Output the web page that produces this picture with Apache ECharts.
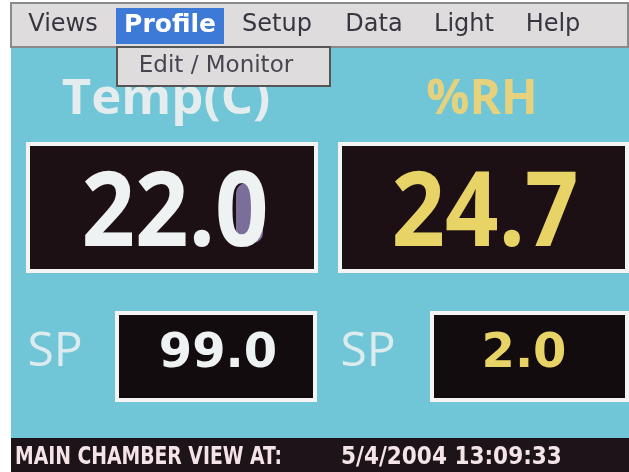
<!DOCTYPE html>
<html>
<head>
<meta charset="utf-8">
<script src="https://cdn.jsdelivr.net/npm/echarts@6/dist/echarts.min.js"></script>
<style>
  html, body { margin: 0; padding: 0; background: #ffffff; }
  #main { width: 629px; height: 472px; }
</style>
</head>
<body>
<div id="main"></div>
<script>
// screen content
const menuItems = ["Views", "Profile", "Setup", "Data", "Light", "Help"];
const menuX = [63, 170, 277, 374, 464, 553];
const activeMenu = "Profile";
const dropdownItems = ["Edit / Monitor"];
const headings = ["Temp(C)", "%RH"];
const readings = ["22.0", "24.7"];
const spLabel = "SP";
const setpoints = ["99.0", "2.0"];
const statusLabel = "MAIN CHAMBER VIEW AT:";
const statusTime = "5/4/2004 13:09:33";

const BG = "#70c5d7";
const WHITE = "#eef2f2";
const YELLOW = "#e8d466";
const PANEL = "#1c1014";

var myChart = echarts.init(document.getElementById("main"));

const g = [];

// screen background
g.push({ type: "rect", shape: { x: 11, y: 3, width: 618, height: 469 }, style: { fill: BG } });

// menu bar
g.push({ type: "rect", shape: { x: 11, y: 3, width: 617, height: 44 },
  style: { fill: "#dedcdc", stroke: "#8a8a8a", lineWidth: 2 } });
menuItems.forEach(function (m, i) {
  const active = m === activeMenu;
  if (active) {
    g.push({ type: "rect", shape: { x: 116, y: 8, width: 108, height: 36 }, style: { fill: "#3d79d6" } });
  }
  g.push({ type: "text", x: menuX[i], y: 25, style: {
    text: m, fill: active ? "#ffffff" : "#3a3440",
    font: active ? "bold 25px 'DejaVu Sans'" : "24px 'DejaVu Sans'",
    align: "center", verticalAlign: "middle" } });
});

// headings (drawn before dropdown so it overlaps them)
g.push({ type: "text", x: 166, y: 100, scaleX: 1.06, style: { text: headings[0], fill: "#e4ecee",
  font: "bold 48px 'Open Sans'", align: "center", verticalAlign: "middle" } });
g.push({ type: "text", x: 482, y: 100, style: { text: headings[1], fill: "#e6d27c",
  font: "bold 48px 'Open Sans'", align: "center", verticalAlign: "middle" } });

// dropdown
g.push({ type: "rect", shape: { x: 117, y: 47, width: 213, height: 39 },
  style: { fill: "#dedcdc", stroke: "#555", lineWidth: 2 } });
dropdownItems.forEach(function (d, i) {
  g.push({ type: "text", x: 216, y: 66 + i * 39, style: { text: d, fill: "#4a4450",
    font: "23px 'DejaVu Sans'", align: "center", verticalAlign: "middle" } });
});

// big reading panels
const bigBoxes = [[28, 144, 288, 127], [340, 144, 287, 127]];
const bigX = [175, 485];
bigBoxes.forEach(function (b) {
  g.push({ type: "rect", shape: { x: b[0], y: b[1], width: b[2], height: b[3] },
    style: { fill: PANEL, stroke: "#f4f4f4", lineWidth: 4 } });
});
// cursor fill inside the last digit
g.push({ type: "rect", shape: { x: 236, y: 183, width: 27, height: 60, r: 10 }, style: { fill: "#7a6f9a" } });
readings.forEach(function (r, i) {
  g.push({ type: "text", x: bigX[i], y: 216, scaleX: 0.9,
    style: { text: r, fill: i === 0 ? WHITE : YELLOW,
      font: "bold 104px 'Open Sans'", align: "center", verticalAlign: "middle" } });
});

// setpoints
const spX = [55, 368];
const spBoxes = [[117, 313, 198, 87], [432, 313, 195, 87]];
const spValX = [218, 524];
spBoxes.forEach(function (b, i) {
  g.push({ type: "text", x: spX[i], y: 352, style: { text: spLabel, fill: "#dcecee",
    font: "48px 'Open Sans'", align: "center", verticalAlign: "middle" } });
  g.push({ type: "rect", shape: { x: b[0], y: b[1], width: b[2], height: b[3] },
    style: { fill: "#120c0e", stroke: "#f4f4f4", lineWidth: 4 } });
  g.push({ type: "text", x: spValX[i], y: 355,
    style: { text: setpoints[i], fill: i === 0 ? WHITE : YELLOW,
      font: "bold 48px 'DejaVu Sans'", align: "center", verticalAlign: "middle" } });
});

// status bar
g.push({ type: "rect", shape: { x: 11, y: 438, width: 618, height: 34 }, style: { fill: "#1c1418" } });
g.push({ type: "text", x: 15, y: 458, scaleX: 0.87, style: { text: statusLabel, fill: "#f4e4e8",
  font: "bold 24px 'DejaVu Sans Condensed', 'DejaVu Sans'", align: "left", verticalAlign: "middle" } });
g.push({ type: "text", x: 341, y: 458, style: { text: statusTime, fill: "#f4e4e8",
  font: "bold 24px 'DejaVu Sans Condensed', 'DejaVu Sans'", align: "left", verticalAlign: "middle" } });

myChart.setOption({
  backgroundColor: "#ffffff",
  animation: false,
  graphic: { elements: g }
});
</script>
</body>
</html>
